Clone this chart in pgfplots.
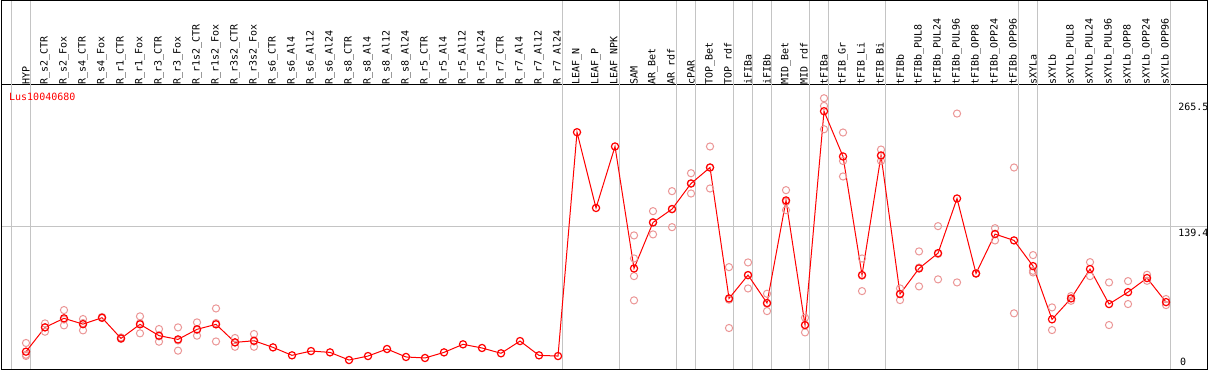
\documentclass[border=0pt]{standalone}
\usepackage{fontspec}
\setmainfont{DejaVu Sans Mono}
\usepackage{pgfplots}
\pgfplotsset{compat=1.18}
\usepackage{pgfplotstable}

\definecolor{meanred}{RGB}{255,0,0}
\definecolor{reppink}{RGB}{235,150,150}
\definecolor{sepgray}{RGB}{196,196,196}

\pgfplotstableread{
x y
0 17.0
1 40.8
2 49.7
3 44.0
4 50.3
5 30.0
6 43.8
7 32.7
8 29.0
9 38.9
10 43.8
11 26.1
12 27.7
13 21.2
14 13.4
15 17.6
16 16.3
17 8.8
18 12.7
19 19.6
20 11.8
21 10.8
22 16.3
23 24.2
24 20.6
25 15.4
26 27.4
27 13.4
28 12.7
29 232.2
30 157.9
31 218.2
32 98.6
33 143.7
34 156.8
35 181.9
36 197.6
37 69.2
38 92.1
39 64.7
40 165.3
41 43.1
42 252.8
43 208.4
44 92.1
45 209.4
46 73.5
47 98.6
48 113.6
49 167.2
50 93.7
51 132.3
52 126.1
53 100.9
54 48.7
55 69.2
56 98.0
57 63.7
58 75.4
59 89.2
60 65.6
}\meandata

\pgfplotstableread{
x y
0 25.5
0 14.0
0 12.8
1 44.7
1 36.6
1 41.0
2 57.8
2 42.8
2 48.5
3 49.0
3 37.9
3 45.0
4 51.0
4 50.0
5 31.0
5 29.5
6 51.6
6 35.0
6 44.8
7 39.2
7 26.8
7 32.0
8 40.8
8 18.0
8 28.0
9 45.7
9 32.7
9 38.3
10 59.4
10 27.0
10 45.0
11 30.4
11 21.8
11 26.1
12 34.3
12 21.8
12 27.0
32 131.0
32 108.4
32 91.1
32 67.3
33 154.8
33 132.0
33 144.0
34 174.4
34 139.1
34 157.0
35 192.0
35 172.1
35 182.0
36 218.2
36 177.0
36 197.6
37 99.9
37 40.2
37 68.0
38 104.5
38 79.0
38 92.0
39 73.8
39 56.8
39 64.0
40 175.4
40 155.8
40 164.0
41 50.3
41 35.9
41 43.0
42 265.5
42 258.0
42 235.1
43 231.9
43 204.0
43 188.8
44 108.4
44 76.4
44 91.5
45 215.2
45 204.0
45 209.0
46 79.0
46 67.6
46 73.9
47 115.3
47 81.0
47 99.5
48 140.1
48 87.9
48 112.8
49 250.5
49 84.9
50 94.0
50 93.5
51 138.1
51 126.1
51 132.7
52 197.6
52 54.6
53 111.7
53 94.7
53 96.3
54 60.4
54 38.2
55 71.5
55 66.9
56 104.8
56 91.1
57 84.9
57 43.1
58 86.2
58 63.7
59 92.4
59 86.5
60 68.6
60 62.7
}\repdata

\begin{document}
\begin{tikzpicture}
\begin{axis}[
  scale only axis,
  width=1206pt, height=284pt,
  xmin=-1.3158, xmax=62.158,
  ymin=0, ymax=278.5,
  clip=false,
  axis line style={black, line width=1pt},
  xtick={0,...,60},
  xticklabels={HYP, R\_s2\_CTR, R\_s2\_Fox, R\_s4\_CTR, R\_s4\_Fox, R\_r1\_CTR, R\_r1\_Fox, R\_r3\_CTR, R\_r3\_Fox, R\_r1s2\_CTR, R\_r1s2\_Fox, R\_r3s2\_CTR, R\_r3s2\_Fox, R\_s6\_CTR, R\_s6\_Al4, R\_s6\_Al12, R\_s6\_Al24, R\_s8\_CTR, R\_s8\_Al4, R\_s8\_Al12, R\_s8\_Al24, R\_r5\_CTR, R\_r5\_Al4, R\_r5\_Al12, R\_r5\_Al24, R\_r7\_CTR, R\_r7\_Al4, R\_r7\_Al12, R\_r7\_Al24, LEAF\_N, LEAF\_P, LEAF\_NPK, SAM, AR\_Bet, AR\_rdf, cPAR, TOP\_Bet, TOP\_rdf, iFIBa, iFIBb, MID\_Bet, MID\_rdf, tFIBa, tFIB\_Gr, tFIB\_Li, tFIB\_Bi, tFIBb, tFIBb\_PUL8, tFIBb\_PUL24, tFIBb\_PUL96, tFIBb\_OPP8, tFIBb\_OPP24, tFIBb\_OPP96, sXYLa, sXYLb, sXYLb\_PUL8, sXYLb\_PUL24, sXYLb\_PUL96, sXYLb\_OPP8, sXYLb\_OPP24, sXYLb\_OPP96},
  xticklabel pos=upper,
  xticklabel style={rotate=90, anchor=west, inner sep=1.5pt, font=\fontsize{10}{12}\selectfont, xshift=-1pt},
  major tick length=0pt,
  ytick={139.4}, yticklabels={},
  ymajorgrids,
  grid style={sepgray, line width=1pt},
]
\pgfplotsinvokeforeach{-0.7895,0.2105,28.2105,31.2105,34.2105,35.2105,37.2105,38.2105,39.2105,41.2105,42.2105,45.2105,52.2105,53.2105,60.2105}{
  \draw[sepgray, line width=1pt] (axis cs:#1,0) -- (axis cs:#1,361.4);
}
\draw[black, line width=1pt] (rel axis cs:0,0) rectangle (rel axis cs:1,1.2975);
\coordinate (bl) at (rel axis cs:0,0);

\addplot[only marks, mark=o, mark size=3.6pt, color=reppink, mark options={line width=1pt}] table {\repdata};
\addplot[color=meanred, line width=1pt, mark=o, mark size=3.6pt, mark options={line width=1.2pt}] table {\meandata};

\node[anchor=west, inner sep=0pt, text=meanred, font=\fontsize{10}{12}\selectfont] at (rel axis cs:0.0066,0.9588) {Lus10040680};
\node[anchor=west, inner sep=0pt, font=\fontsize{10}{12}\selectfont] at (rel axis cs:0.9760,0.9225) {265.5};
\node[anchor=west, inner sep=0pt, font=\fontsize{10}{12}\selectfont] at (rel axis cs:0.9760,0.4800) {139.4};
\node[anchor=west, inner sep=0pt, font=\fontsize{10}{12}\selectfont] at (rel axis cs:0.9776,0.0246) {0};
\end{axis}
\pgfresetboundingbox
\path[use as bounding box] (bl) ++(-1pt,-1pt) rectangle ++(1209pt,370pt);
\end{tikzpicture}
\end{document}
